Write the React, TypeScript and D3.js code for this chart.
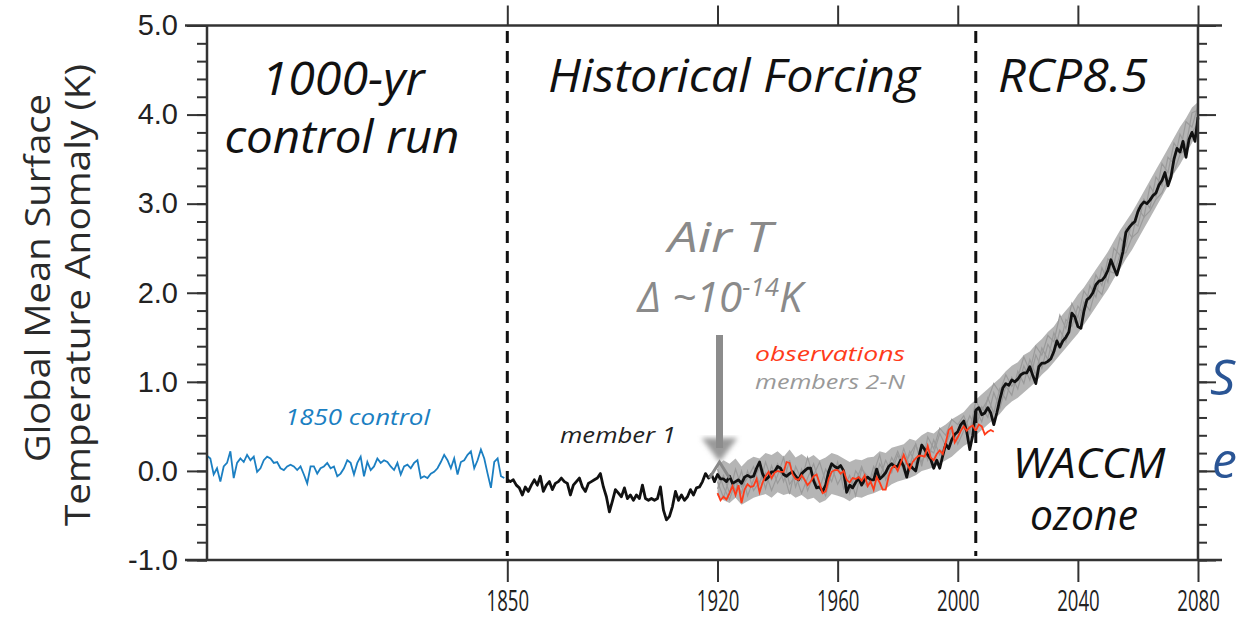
import React, { useEffect, useRef } from 'react'
import * as d3 from 'd3'

const W = 1239
const H = 622

// 1000-yr control run, drawn compressed into the left panel
const controlValues = [
  0.17, 0.14, -0.04, 0.03, -0.12, 0.05, 0.09, 0.22, -0.08, 0.09,
  0.14, 0.1, 0.18, 0.12, 0.16, -0.01, 0.03, 0.12, 0.16, 0.14,
  0.09, 0.1, 0.03, 0.01, 0.05, 0.07, 0.05, 0.01, 0.05, -0.04,
  -0.14, 0.05, 0.05, -0.03, 0.03, 0.05, 0.09, 0.03, 0.05, -0.06,
  -0.03, 0.03, 0.12, 0.09, -0.04, 0.09, 0.16, -0.06, 0.1, 0.01,
  0.05, 0.14, 0.09, 0.12, 0.1, 0.05, 0.01, 0.09, -0.04, 0.05,
  0.07, 0.03, 0.09, 0.12, -0.08, -0.06, -0.08, -0.03, -0.01, 0.03,
  0.1, 0.18, 0.12, 0.03, 0.14, -0.04, 0.1, 0.12, 0.18, 0.22,
  0.03, 0.12, 0.24, 0.14, -0.03, -0.19, 0.1, 0.14, -0.06, -0.08,
]

// member 1, annual, 1850-2080
const member1Start = 1850
const member1Values = [
  -0.1, -0.12, -0.1, -0.16, -0.19, -0.27, -0.18, -0.23, -0.16, -0.1,
  -0.16, -0.06, -0.23, -0.16, -0.12, -0.21, -0.14, -0.12, -0.08, -0.12,
  -0.14, -0.27, -0.16, -0.12, -0.08, -0.18, -0.23, -0.14, -0.12, -0.1,
  -0.08, -0.03, -0.18, -0.29, -0.46, -0.34, -0.21, -0.25, -0.29, -0.19,
  -0.31, -0.27, -0.33, -0.27, -0.31, -0.16, -0.31, -0.33, -0.31, -0.33,
  -0.31, -0.18, -0.44, -0.55, -0.51, -0.4, -0.23, -0.33, -0.27, -0.33,
  -0.29, -0.21, -0.27, -0.19, -0.18, -0.12, -0.03, -0.08, -0.04, -0.12,
  -0.04, -0.09, -0.09, -0.12, -0.06, -0.14, -0.12, -0.1, -0.14, -0.07,
  -0.05, -0.07, -0.06, 0.03, 0.1, -0.03, -0.1, -0.07, -0.01, -0.01,
  0.05, 0.03, -0.04, -0.06, -0.03, -0.01, -0.06, -0.1, -0.03, 0.0,
  0.03, 0.03, -0.11, -0.19, -0.18, -0.23, -0.16, -0.01, 0.08, 0.05,
  0.03, 0.06, 0.0, -0.24, -0.16, -0.19, -0.13, -0.08, -0.16, -0.1,
  -0.07, -0.1, -0.1, 0.02, -0.09, -0.06, -0.02, 0.05, 0.08, 0.05,
  0.05, 0.12, 0.05, -0.07, 0.07, 0.03, 0.0, 0.15, 0.29, 0.24,
  0.18, 0.13, 0.03, 0.12, 0.03, 0.17, 0.3, 0.25, 0.35, 0.41,
  0.44, 0.52, 0.56, 0.44, 0.24, 0.4, 0.68, 0.71, 0.63, 0.65,
  0.71, 0.65, 0.52, 0.65, 0.8, 0.93, 0.98, 0.96, 1.02, 1.0,
  1.03, 1.08, 1.1, 1.1, 1.17, 1.07, 0.98, 1.17, 1.21, 1.21,
  1.23, 1.26, 1.34, 1.46, 1.39, 1.46, 1.5, 1.56, 1.77, 1.73,
  1.62, 1.6, 1.79, 1.92, 1.95, 2.0, 2.09, 2.13, 2.14, 2.18,
  2.25, 2.37, 2.28, 2.2, 2.32, 2.46, 2.68, 2.73, 2.77, 2.8,
  2.91, 2.98, 3.02, 3.0, 3.04, 3.09, 3.12, 3.21, 3.26, 3.35,
  3.2, 3.3, 3.5, 3.62, 3.58, 3.7, 3.52, 3.72, 3.8, 3.7, 3.97,
]

// observations, annual, 1920-2012
const obsStart = 1920
const obsValues = [
  -0.25, -0.33, -0.29, -0.32, -0.25, -0.17, -0.27, -0.16, -0.36, -0.21,
  -0.15, -0.18, -0.17, -0.09, -0.24, -0.13, -0.06, -0.01, -0.08, -0.02,
  0.0, -0.01, -0.01, 0.1, 0.09, -0.04, -0.09, -0.1, -0.05, -0.1,
  -0.16, -0.12, -0.06, -0.04, -0.14, -0.25, -0.23, -0.09, -0.01, 0.01,
  0.01, -0.03, 0.0, -0.1, -0.13, -0.08, -0.09, -0.07, -0.11, -0.05,
  -0.17, -0.12, -0.21, -0.07, -0.13, -0.21, -0.21, -0.06, 0.03, 0.06,
  0.0, 0.09, 0.18, 0.09, 0.02, 0.1, 0.14, 0.17, 0.17, 0.16,
  0.28, 0.15, 0.12, 0.19, 0.23, 0.19, 0.32, 0.46, 0.49, 0.32,
  0.38, 0.45, 0.5, 0.45, 0.49, 0.51, 0.45, 0.52, 0.5, 0.41,
  0.44, 0.46, 0.44,
]

// members 2-N, every 2 years, 1920-2080
const ensStart = 1920
const ensStep = 2
const ensUpper = [
  0.06, 0.12, 0.08, 0.14, 0.05, 0.12, 0.16, 0.14, 0.2, 0.18,
  0.22, 0.16, 0.24, 0.15, 0.19, 0.14, 0.18, 0.12, 0.15, 0.2,
  0.18, 0.14, 0.1, 0.13, 0.12, 0.15, 0.16, 0.22, 0.2, 0.26,
  0.28, 0.3, 0.36, 0.34, 0.4, 0.44, 0.42, 0.48, 0.52, 0.58,
  0.62, 0.66, 0.74, 0.8, 0.86, 0.92, 0.98, 1.04, 1.12, 1.18,
  1.22, 1.3, 1.34, 1.42, 1.48, 1.56, 1.62, 1.72, 1.8, 1.88,
  1.98, 2.06, 2.16, 2.26, 2.36, 2.46, 2.58, 2.7, 2.8, 2.9,
  3.02, 3.14, 3.26, 3.38, 3.5, 3.62, 3.74, 3.86, 3.96, 4.08,
  4.14,
]
const ensLower = [
  -0.28, -0.33, -0.36, -0.3, -0.38, -0.34, -0.3, -0.28, -0.26, -0.3,
  -0.24, -0.27, -0.25, -0.3, -0.27, -0.32, -0.3, -0.36, -0.33, -0.26,
  -0.28, -0.3, -0.34, -0.29, -0.3, -0.27, -0.25, -0.22, -0.2, -0.15,
  -0.12, -0.1, -0.08, -0.05, 0.0, 0.02, 0.04, 0.08, 0.12, 0.16,
  0.22, 0.28, 0.32, 0.4, 0.46, 0.52, 0.58, 0.64, 0.72, 0.78,
  0.82, 0.88, 0.94, 1.0, 1.08, 1.14, 1.22, 1.3, 1.38, 1.46,
  1.54, 1.64, 1.74, 1.84, 1.94, 2.04, 2.16, 2.26, 2.38, 2.48,
  2.6, 2.72, 2.84, 2.96, 3.08, 3.2, 3.34, 3.44, 3.56, 3.68,
  3.82,
]
const ensMemberA = [
  -0.2, -0.05, -0.25, 0.02, -0.18, -0.08, 0.05, -0.15, 0.1, -0.1,
  0.08, -0.12, 0.12, -0.18, 0.02, -0.22, -0.05, 0.1, -0.12, 0.05,
  -0.15, -0.02, -0.25, 0.0, -0.1, -0.18, 0.05, -0.08, 0.12, -0.02,
  0.18, 0.0, 0.22, 0.08, 0.3, 0.12, 0.35, 0.18, 0.3, 0.45,
  0.35, 0.55, 0.42, 0.7, 0.55, 0.82, 0.65, 0.92, 0.8, 1.05,
  0.92, 1.18, 1.02, 1.3, 1.15, 1.42, 1.3, 1.58, 1.45, 1.72,
  1.62, 1.9, 1.8, 2.05, 1.98, 2.25, 2.22, 2.42, 2.45, 2.62,
  2.68, 2.85, 2.92, 3.05, 3.12, 3.28, 3.36, 3.55, 3.62, 3.8,
  3.9,
]
const ensMemberB = [
  -0.12, -0.3, -0.08, -0.22, 0.0, -0.28, -0.1, 0.04, -0.2, 0.06,
  -0.14, -0.02, -0.26, 0.05, -0.1, 0.15, -0.08, -0.2, 0.02, -0.12,
  0.1, -0.2, -0.05, -0.28, 0.02, -0.06, -0.2, 0.08, -0.05, 0.15,
  0.02, 0.25, 0.05, 0.3, 0.1, 0.25, 0.2, 0.42, 0.28, 0.5,
  0.3, 0.45, 0.62, 0.48, 0.72, 0.6, 0.88, 0.7, 0.95, 0.85,
  1.12, 0.98, 1.25, 1.08, 1.38, 1.25, 1.55, 1.4, 1.7, 1.62,
  1.85, 1.75, 2.08, 1.95, 2.28, 2.12, 2.5, 2.42, 2.72, 2.62,
  2.95, 2.85, 3.2, 3.08, 3.45, 3.35, 3.68, 3.58, 3.92, 3.86,
  4.1,
]
const ensMemberC = [
  0.02, -0.18, -0.32, -0.12, -0.25, 0.0, -0.22, -0.12, -0.02, -0.22,
  -0.05, 0.15, -0.15, -0.05, -0.25, -0.08, 0.08, -0.15, -0.28, -0.02,
  0.05, -0.1, -0.2, -0.12, 0.05, -0.15, -0.02, 0.18, -0.1, 0.05,
  0.22, 0.05, 0.18, 0.3, 0.05, 0.38, 0.25, 0.48, 0.4, 0.58,
  0.52, 0.62, 0.45, 0.78, 0.68, 0.8, 0.98, 0.88, 1.08, 0.95,
  1.05, 1.28, 1.12, 1.4, 1.3, 1.52, 1.45, 1.75, 1.6, 1.88,
  1.72, 2.02, 1.92, 2.2, 2.08, 2.38, 2.32, 2.62, 2.52, 2.8,
  2.75, 3.05, 2.95, 3.3, 3.2, 3.52, 3.45, 3.78, 3.65, 4.02,
  4.05,
]

const yMajorTicks = [-1, 0, 1, 2, 3, 4, 5]
const yMinorTicks = d3.range(-1, 5.001, 0.2)
const xTicks = [1850, 1920, 1960, 2000, 2040, 2080]
const forcingBreaks = [1850, 2006]

const BLUE = '#1b7fc2'
const RED = '#ff3b1a'
const GREY_TXT = '#8a8a8a'
const ITALIC = "'Open Sans', Lato, sans-serif"

const App: React.FC = () => {
  const ref = useRef<SVGSVGElement | null>(null)

  useEffect(() => {
    const svg = d3.select(ref.current)
    svg.selectAll('*').remove()

    const x = d3.scaleLinear().domain([1750, 2080]).range([207, 1198])
    const y = d3.scaleLinear().domain([-1, 5]).range([560, 25.5])
    const ctrlYear = d3
      .scaleLinear()
      .domain([0, controlValues.length - 1])
      .range([1750, 1849])

    const defs = svg.append('defs')
    defs
      .append('filter')
      .attr('id', 'soft')
      .append('feGaussianBlur')
      .attr('stdDeviation', 2.5)

    const line = d3
      .line<[number, number]>()
      .x((d) => x(d[0]))
      .y((d) => y(d[1]))

    const ensPts = (vals: number[]) =>
      vals.map((v, i) => [ensStart + i * ensStep, v] as [number, number])

    // grey ensemble spread
    const band = d3
      .area<number>()
      .x((_, i) => x(ensStart + i * ensStep))
      .y0((_, i) => y(ensLower[i]))
      .y1((d) => y(d))
    svg
      .append('path')
      .attr('d', band(ensUpper))
      .attr('fill', '#b5b5b5')

    ;[ensMemberA, ensMemberB, ensMemberC].forEach((m) => {
      svg
        .append('path')
        .attr('d', line(ensPts(m)))
        .attr('fill', 'none')
        .attr('stroke', '#9a9a9a')
        .attr('stroke-width', 1.2)
    })

    // control run
    svg
      .append('path')
      .attr('d', line(controlValues.map((v, i) => [ctrlYear(i), v])))
      .attr('fill', 'none')
      .attr('stroke', BLUE)
      .attr('stroke-width', 1.8)

    // member 1
    svg
      .append('path')
      .attr('d', line(member1Values.map((v, i) => [member1Start + i, v])))
      .attr('fill', 'none')
      .attr('stroke', '#111')
      .attr('stroke-width', 2.8)
      .attr('stroke-linejoin', 'round')

    // observations
    svg
      .append('path')
      .attr('d', line(obsValues.map((v, i) => [obsStart + i, v])))
      .attr('fill', 'none')
      .attr('stroke', RED)
      .attr('stroke-width', 1.8)

    // period separators
    forcingBreaks.forEach((yr) => {
      svg
        .append('line')
        .attr('x1', x(yr))
        .attr('x2', x(yr))
        .attr('y1', 31)
        .attr('y2', 556)
        .attr('stroke', '#111')
        .attr('stroke-width', 3)
        .attr('stroke-dasharray', '12 8')
    })

    // frame
    const frame = svg.append('g').attr('stroke', '#333').attr('stroke-width', 2.5)
    frame.append('line').attr('x1', 185).attr('x2', 1222).attr('y1', y(5)).attr('y2', y(5))
    frame.append('line').attr('x1', 185).attr('x2', 1222).attr('y1', y(-1)).attr('y2', y(-1))
    frame.append('line').attr('x1', x(1750)).attr('x2', x(1750)).attr('y1', y(5)).attr('y2', y(-1))
    frame.append('line').attr('x1', x(2080)).attr('x2', x(2080)).attr('y1', y(5)).attr('y2', y(-1))

    const styleAxis = (g: d3.Selection<SVGGElement, unknown, null, undefined>) => {
      g.select('.domain').remove()
      g.selectAll('.tick line').attr('stroke', '#333').attr('stroke-width', 2)
    }

    // y axes (left and mirrored right)
    svg
      .append('g')
      .attr('transform', `translate(${x(1750)},0)`)
      .call(d3.axisLeft(y).tickValues(yMinorTicks).tickSize(10).tickFormat(() => ''))
      .call(styleAxis)
    svg
      .append('g')
      .attr('transform', `translate(${x(1750)},0)`)
      .call(
        d3
          .axisLeft(y)
          .tickValues(yMajorTicks)
          .tickSize(20)
          .tickPadding(9)
          .tickFormat((d) => (d as number).toFixed(1))
      )
      .call(styleAxis)
      .call((g) =>
        g
          .selectAll('text')
          .attr('font-family', "'Liberation Sans', Arial, sans-serif")
          .attr('font-size', 29)
          .attr('fill', '#222')
      )
    svg
      .append('g')
      .attr('transform', `translate(${x(2080)},0)`)
      .call(d3.axisRight(y).tickValues(yMinorTicks).tickSize(9).tickFormat(() => ''))
      .call(styleAxis)
    svg
      .append('g')
      .attr('transform', `translate(${x(2080)},0)`)
      .call(d3.axisRight(y).tickValues(yMajorTicks).tickSize(18).tickFormat(() => ''))
      .call(styleAxis)

    // x axes (bottom with labels, top mirrored); labels squeezed to a condensed look
    svg
      .append('g')
      .attr('transform', `translate(0,${y(-1)})`)
      .call(d3.axisBottom(x).tickValues(xTicks).tickSize(22).tickPadding(8).tickFormat(d3.format('d')))
      .call(styleAxis)
      .call((g) =>
        g
          .selectAll('text')
          .attr('font-family', "'Open Sans', sans-serif")
          .attr('font-size', 30)
          .attr('fill', '#222')
          .attr('transform', 'scale(0.62,1)')
      )
    svg
      .append('g')
      .attr('transform', `translate(0,${y(5)})`)
      .call(d3.axisTop(x).tickValues(xTicks).tickSize(20).tickFormat(() => ''))
      .call(styleAxis)

    // y title
    const yTitle = svg
      .append('g')
      .attr('font-family', "'Open Sans', Lato, sans-serif")
      .attr('font-size', 34)
      .attr('fill', '#2a2a2a')
      .attr('text-anchor', 'middle')
    yTitle
      .append('text')
      .attr('transform', 'translate(50,278) rotate(-90)')
      .attr('textLength', 368)
      .attr('lengthAdjust', 'spacingAndGlyphs')
      .text('Global Mean Surface')
    yTitle
      .append('text')
      .attr('transform', 'translate(90,295) rotate(-90)')
      .attr('textLength', 462)
      .attr('lengthAdjust', 'spacingAndGlyphs')
      .text('Temperature Anomaly (K)')

    // annotations
    const note = (
      t: string,
      px: number,
      py: number,
      size: number,
      fill: string,
      anchor: string,
      len?: number
    ) => {
      const el = svg
        .append('text')
        .attr('x', px)
        .attr('y', py)
        .attr('font-family', ITALIC)
        .attr('font-style', 'italic')
        .attr('font-size', size)
        .attr('fill', fill)
        .attr('text-anchor', anchor)
        .text(t)
      if (len) el.attr('textLength', len).attr('lengthAdjust', 'spacingAndGlyphs')
      return el
    }

    note('1000-yr', 343, 95, 46, '#111', 'middle', 163)
    note('control run', 342, 153, 46, '#111', 'middle', 235)
    note('Historical Forcing', 734, 92, 46, '#111', 'middle', 372)
    note('RCP8.5', 1073, 92, 46, '#111', 'middle', 150)
    note('Air T', 720, 252, 42, GREY_TXT, 'middle', 104)
    note('WACCM', 1089, 478, 42, '#111', 'middle', 153)
    note('ozone', 1084, 530, 42, '#111', 'middle', 108)
    note('observations', 755, 361, 20, RED, 'start', 150)
    note('members 2-N', 755, 389, 20, '#999', 'start', 150)
    note('member 1', 560, 443, 21, '#222', 'start', 116)
    note('1850 control', 285, 425, 21, BLUE, 'start', 145)
    note('S', 1210, 395, 50, '#2a5595', 'start')
    note('e', 1212, 478, 50, '#2a5595', 'start')

    const delta = note('', 720, 312, 42, GREY_TXT, 'middle')
    delta.append('tspan').text('Δ ~10')
    delta.append('tspan').attr('dy', -16).attr('font-size', 26).text('-14')
    delta.append('tspan').attr('dy', 16).text('K')

    // arrow to the start of the ensemble
    const ax = x(1920) + 2
    svg
      .append('path')
      .attr('d', `M${ax - 18},438 L${ax + 18},438 L${ax},462 Z`)
      .attr('fill', '#9a9a9a')
      .attr('filter', 'url(#soft)')
    svg
      .append('line')
      .attr('x1', ax)
      .attr('x2', ax)
      .attr('y1', 335)
      .attr('y2', 448)
      .attr('stroke', '#8c8c8c')
      .attr('stroke-width', 7)
    svg
      .append('path')
      .attr('d', `M${ax - 10},478 L${ax},462 L${ax + 10},478`)
      .attr('fill', 'none')
      .attr('stroke', '#888')
      .attr('stroke-width', 3)
  }, [])

  return (
    <svg
      ref={ref}
      width={W}
      height={H}
      style={{ position: 'absolute', left: 0, top: 0, background: '#fff' }}
    />
  )
}

export default App
